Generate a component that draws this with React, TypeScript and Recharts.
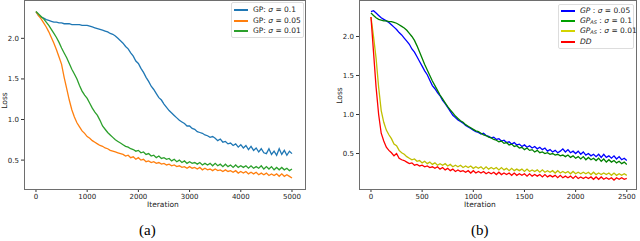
import { LineChart, Line, XAxis, YAxis } from "recharts";

// (a) losses, one value every 50 iterations from 0 to 5000
const STEP_A = 50;
const lossA01 = [
  2.33, 2.28, 2.26, 2.25, 2.23, 2.22, 2.21, 2.2, 2.2, 2.19,
  2.19, 2.18, 2.18, 2.18, 2.17, 2.17, 2.17, 2.17, 2.16, 2.16,
  2.16, 2.15, 2.14, 2.13, 2.12, 2.11, 2.1, 2.09, 2.08, 2.06,
  2.05, 2.03, 2.0, 1.97, 1.94, 1.9, 1.87, 1.82, 1.78, 1.72,
  1.69, 1.63, 1.58, 1.52, 1.47, 1.41, 1.37, 1.32, 1.27, 1.24,
  1.19, 1.15, 1.11, 1.08, 1.05, 1.02, 0.99, 0.97, 0.95, 0.92,
  0.92, 0.89, 0.88, 0.85, 0.84, 0.83, 0.81, 0.8, 0.78, 0.79,
  0.77, 0.74, 0.76, 0.72, 0.73, 0.7, 0.71, 0.68, 0.7, 0.66,
  0.69, 0.65, 0.68, 0.63, 0.67, 0.62, 0.65, 0.6, 0.64, 0.59,
  0.58, 0.64, 0.57, 0.61, 0.56, 0.64, 0.57, 0.62, 0.56, 0.61,
  0.58,
];
const lossA005 = [
  2.33, 2.28, 2.24, 2.19, 2.14, 2.08, 2.01, 1.94, 1.86, 1.77,
  1.68, 1.52, 1.38, 1.24, 1.12, 1.03, 0.96, 0.91, 0.86, 0.83,
  0.79, 0.77, 0.74, 0.72, 0.7, 0.68, 0.67, 0.65, 0.64, 0.62,
  0.61, 0.6, 0.59, 0.58, 0.57, 0.55, 0.56, 0.53, 0.54, 0.51,
  0.53, 0.5, 0.51, 0.48, 0.49, 0.47, 0.48, 0.46, 0.47, 0.45,
  0.46, 0.44, 0.45, 0.43, 0.44, 0.42, 0.43, 0.41, 0.42, 0.4,
  0.42, 0.4, 0.41, 0.39, 0.41, 0.38, 0.4, 0.38, 0.39, 0.37,
  0.39, 0.37, 0.38, 0.36, 0.38, 0.36, 0.37, 0.35, 0.37, 0.34,
  0.36, 0.34, 0.36, 0.33, 0.35, 0.33, 0.35, 0.32, 0.34, 0.32,
  0.34, 0.31, 0.33, 0.31, 0.33, 0.3, 0.33, 0.3, 0.32, 0.3,
  0.28,
];
const lossA001 = [
  2.33, 2.3, 2.27, 2.24, 2.2, 2.16, 2.11, 2.06, 2.01, 1.95,
  1.88, 1.82, 1.76, 1.69, 1.62, 1.56, 1.5, 1.42, 1.35, 1.3,
  1.26, 1.2, 1.14, 1.09, 1.05, 0.99, 0.92, 0.88, 0.84, 0.81,
  0.78, 0.75, 0.73, 0.71, 0.69, 0.67, 0.66, 0.64, 0.63, 0.61,
  0.62, 0.59, 0.6, 0.57, 0.58, 0.55, 0.56, 0.53, 0.55, 0.52,
  0.53, 0.51, 0.52, 0.49, 0.51, 0.48, 0.5, 0.47, 0.49, 0.46,
  0.48, 0.46, 0.47, 0.45, 0.47, 0.44, 0.46, 0.44, 0.46, 0.43,
  0.46, 0.43, 0.45, 0.42, 0.45, 0.42, 0.44, 0.41, 0.44, 0.41,
  0.43, 0.41, 0.43, 0.4, 0.43, 0.4, 0.42, 0.4, 0.43, 0.39,
  0.42, 0.39, 0.42, 0.38, 0.41, 0.38, 0.41, 0.38, 0.4, 0.37,
  0.39,
];

// (b) losses, one value every 25 iterations from 0 to 2500
const STEP_B = 25;
const lossBgp = [
  2.32, 2.33, 2.3, 2.27, 2.24, 2.22, 2.2, 2.18, 2.15, 2.12,
  2.09, 2.05, 2.02, 1.98, 1.94, 1.9, 1.84, 1.8, 1.74, 1.68,
  1.62, 1.56, 1.51, 1.44, 1.37, 1.33, 1.28, 1.24, 1.18, 1.14,
  1.09, 1.04, 0.99, 0.96, 0.93, 0.91, 0.89, 0.86, 0.84, 0.82,
  0.8, 0.78, 0.77, 0.75, 0.76, 0.73, 0.72, 0.7, 0.71, 0.68,
  0.69, 0.66, 0.67, 0.64, 0.65, 0.62, 0.64, 0.61, 0.62, 0.59,
  0.61, 0.58, 0.6, 0.57, 0.59, 0.56, 0.58, 0.55, 0.57, 0.53,
  0.55, 0.52, 0.54, 0.51, 0.53, 0.56, 0.52, 0.55, 0.51, 0.53,
  0.5, 0.53, 0.49, 0.52, 0.48, 0.5, 0.47, 0.49, 0.46, 0.49,
  0.45, 0.49, 0.45, 0.47, 0.44, 0.47, 0.43, 0.46, 0.42, 0.44,
  0.41,
];
const lossBas01 = [
  2.3, 2.27, 2.24, 2.22, 2.21, 2.2, 2.2, 2.19, 2.19, 2.18,
  2.17, 2.15, 2.13, 2.11, 2.08, 2.04, 2.0, 1.95, 1.88, 1.8,
  1.72, 1.64, 1.57, 1.5, 1.43, 1.37, 1.31, 1.25, 1.2, 1.15,
  1.1, 1.06, 1.02, 0.98, 0.95, 0.92, 0.9, 0.87, 0.85, 0.83,
  0.81, 0.79, 0.78, 0.76, 0.74, 0.73, 0.71, 0.7, 0.68, 0.67,
  0.65, 0.66, 0.63, 0.64, 0.61, 0.62, 0.59, 0.6, 0.57, 0.58,
  0.55, 0.57, 0.54, 0.55, 0.52, 0.54, 0.51, 0.52, 0.5, 0.51,
  0.49, 0.5, 0.48, 0.49, 0.47, 0.48, 0.46, 0.48, 0.45, 0.47,
  0.44, 0.46, 0.43, 0.46, 0.42, 0.45, 0.42, 0.44, 0.41, 0.44,
  0.4, 0.43, 0.39, 0.42, 0.39, 0.41, 0.38, 0.4, 0.37, 0.39,
  0.36,
];
const lossBas001 = [
  2.25, 2.0, 1.72, 1.35, 1.05, 0.9, 0.8, 0.74, 0.69, 0.62,
  0.6, 0.54, 0.51, 0.49, 0.46, 0.44, 0.42, 0.43, 0.4, 0.41,
  0.38, 0.4, 0.37, 0.39, 0.36, 0.38, 0.35, 0.37, 0.35, 0.37,
  0.34, 0.36, 0.33, 0.35, 0.33, 0.35, 0.32, 0.34, 0.32, 0.34,
  0.31, 0.33, 0.31, 0.33, 0.3, 0.33, 0.3, 0.32, 0.3, 0.32,
  0.29, 0.32, 0.29, 0.31, 0.28, 0.31, 0.28, 0.3, 0.28, 0.3,
  0.27, 0.3, 0.27, 0.29, 0.27, 0.29, 0.26, 0.29, 0.26, 0.28,
  0.26, 0.28, 0.25, 0.28, 0.25, 0.27, 0.25, 0.27, 0.24, 0.27,
  0.24, 0.26, 0.24, 0.26, 0.24, 0.26, 0.23, 0.26, 0.23, 0.25,
  0.23, 0.25, 0.23, 0.25, 0.22, 0.25, 0.22, 0.24, 0.22, 0.24,
  0.22,
];
const lossBdd = [
  2.25, 1.8, 1.35, 1.0, 0.76, 0.66, 0.58, 0.54, 0.51, 0.47,
  0.5, 0.44, 0.42, 0.41, 0.39, 0.37, 0.38, 0.35, 0.36, 0.34,
  0.35, 0.33, 0.34, 0.32, 0.33, 0.31, 0.33, 0.3, 0.32, 0.29,
  0.31, 0.28, 0.3, 0.27, 0.29, 0.27, 0.28, 0.26, 0.28, 0.25,
  0.28, 0.25, 0.27, 0.25, 0.27, 0.24, 0.26, 0.24, 0.26, 0.23,
  0.26, 0.23, 0.25, 0.23, 0.25, 0.22, 0.25, 0.22, 0.24, 0.22,
  0.24, 0.21, 0.24, 0.21, 0.23, 0.21, 0.23, 0.2, 0.23, 0.2,
  0.22, 0.2, 0.22, 0.19, 0.22, 0.19, 0.21, 0.19, 0.21, 0.18,
  0.21, 0.18, 0.2, 0.18, 0.2, 0.18, 0.2, 0.17, 0.2, 0.17,
  0.2, 0.17, 0.19, 0.17, 0.19, 0.16, 0.19, 0.17, 0.19, 0.17,
  0.18,
];

const ticksA = [0, 1000, 2000, 3000, 4000, 5000];
const ticksB = [0, 500, 1000, 1500, 2000, 2500];
const lossTicks = [0.5, 1.0, 1.5, 2.0];

const dataA = lossA01.map((v, i) => ({
  it: i * STEP_A,
  s01: v,
  s005: lossA005[i],
  s001: lossA001[i],
}));
const dataB = lossBgp.map((v, i) => ({
  it: i * STEP_B,
  gp: v,
  as01: lossBas01[i],
  as001: lossBas001[i],
  dd: lossBdd[i],
}));

const font = "'DejaVu Sans', sans-serif";
const frame = "#6e6e6e";
const tickStyle = { fontSize: 7, fill: "#222", fontFamily: font };

const abs = (left: number, top: number, extra: any = {}) => ({
  position: "absolute" as const,
  left,
  top,
  ...extra,
});

function LegendRow({ top, left, color, children }: any) {
  return (
    <div style={abs(left, top, { display: "flex", alignItems: "center", height: 10 })}>
      <div style={{ width: 14, height: 1.5, background: color, marginRight: 5 }} />
      <span style={{ fontSize: 7.5, lineHeight: "10px", fontFamily: font, color: "#222", whiteSpace: "nowrap" }}>{children}</span>
    </div>
  );
}

const Sub = ({ children }: any) => (
  <sub style={{ fontSize: 5, lineHeight: 0, verticalAlign: "-1px" }}>{children}</sub>
);

export default function App() {
  return (
    <div style={{ position: "fixed", left: 0, top: 0, width: 640, height: 241, background: "#fff", overflow: "hidden" }}>
      {/* (a) */}
      <div style={abs(0, 0)}>
        <LineChart width={320} height={241} data={dataA} margin={{ top: 1, right: 15, bottom: 32, left: 0 }}>
          <XAxis
            dataKey="it"
            type="number"
            domain={[-234, 5254]}
            ticks={ticksA}
            allowDataOverflow
            axisLine={false}
            tickSize={3}
            height={20}
            tick={tickStyle}
            tickLine={{ stroke: "#333" }}
          />
          <YAxis
            type="number"
            domain={[0.144, 2.46]}
            ticks={lossTicks}
            allowDataOverflow
            width={24}
            axisLine={false}
            tickSize={3}
            tick={tickStyle}
            tickLine={{ stroke: "#333" }}
            tickFormatter={(v: number) => v.toFixed(1)}
          />
          <Line dataKey="s01" stroke="#1f77b4" strokeWidth={1.3} dot={false} isAnimationActive={false} />
          <Line dataKey="s005" stroke="#ff7f0e" strokeWidth={1.3} dot={false} isAnimationActive={false} />
          <Line dataKey="s001" stroke="#2ca02c" strokeWidth={1.3} dot={false} isAnimationActive={false} />
        </LineChart>
        <div style={abs(24, 0, { width: 282, height: 190, border: `1px solid ${frame}`, boxSizing: "border-box", pointerEvents: "none" })} />
        <div style={abs(231, 2, { width: 73, height: 36, border: "1px solid #ddd", borderRadius: 2, background: "rgba(255,255,255,0.85)", boxSizing: "border-box" })} />
        <LegendRow left={234} top={5} color="#1f77b4">GP: <i>σ</i> = 0.1</LegendRow>
        <LegendRow left={234} top={16} color="#ff7f0e">GP: <i>σ</i> = 0.05</LegendRow>
        <LegendRow left={234} top={26} color="#2ca02c">GP: <i>σ</i> = 0.01</LegendRow>
        <div style={abs(147, 200, { fontSize: 7.5, lineHeight: "9px", fontFamily: font, color: "#222" })}>Iteration</div>
        <div style={abs(-4, 96, { fontSize: 7.5, lineHeight: "9px", fontFamily: font, color: "#222", transform: "rotate(-90deg)" })}>Loss</div>
        <div style={abs(139, 222, { fontSize: 15, fontFamily: "'Liberation Serif', serif", color: "#000" })}>(a)</div>
      </div>

      {/* (b) */}
      <div style={abs(320, 0)}>
        <LineChart width={320} height={241} data={dataB} margin={{ top: 1, right: 4, bottom: 32, left: 0 }}>
          <XAxis
            dataKey="it"
            type="number"
            domain={[-117, 2590]}
            ticks={ticksB}
            allowDataOverflow
            axisLine={false}
            tickSize={3}
            height={20}
            tick={tickStyle}
            tickLine={{ stroke: "#333" }}
          />
          <YAxis
            type="number"
            domain={[0.045, 2.455]}
            ticks={lossTicks}
            allowDataOverflow
            width={39}
            axisLine={false}
            tickSize={3}
            tick={tickStyle}
            tickLine={{ stroke: "#333" }}
            tickFormatter={(v: number) => v.toFixed(1)}
          />
          <Line dataKey="gp" stroke="#0000ff" strokeWidth={1.3} dot={false} isAnimationActive={false} />
          <Line dataKey="as01" stroke="#008000" strokeWidth={1.3} dot={false} isAnimationActive={false} />
          <Line dataKey="as001" stroke="#bfbf00" strokeWidth={1.3} dot={false} isAnimationActive={false} />
          <Line dataKey="dd" stroke="#ff0000" strokeWidth={1.3} dot={false} isAnimationActive={false} />
        </LineChart>
        <div style={abs(39, 0, { width: 278, height: 190, border: `1px solid ${frame}`, boxSizing: "border-box", pointerEvents: "none" })} />
        <div style={abs(238, 4, { width: 76, height: 45, border: "1px solid #ddd", borderRadius: 2, background: "rgba(255,255,255,0.85)", boxSizing: "border-box" })} />
        <LegendRow left={241} top={6} color="#0000ff"><i>GP</i> : <i>σ</i> = 0.05</LegendRow>
        <LegendRow left={241} top={16} color="#00a000"><i>GP<Sub>AS</Sub></i> : <i>σ</i> = 0.1</LegendRow>
        <LegendRow left={241} top={26} color="#d4d400"><i>GP<Sub>AS</Sub></i> : <i>σ</i> = 0.01</LegendRow>
        <LegendRow left={241} top={37} color="#ff0000"><i>DD</i></LegendRow>
        <div style={abs(144, 200, { fontSize: 7.5, lineHeight: "9px", fontFamily: font, color: "#222" })}>Iteration</div>
        <div style={abs(11, 91, { fontSize: 7.5, lineHeight: "9px", fontFamily: font, color: "#222", transform: "rotate(-90deg)" })}>Loss</div>
        <div style={abs(151, 222, { fontSize: 15, fontFamily: "'Liberation Serif', serif", color: "#000" })}>(b)</div>
      </div>
    </div>
  );
}
